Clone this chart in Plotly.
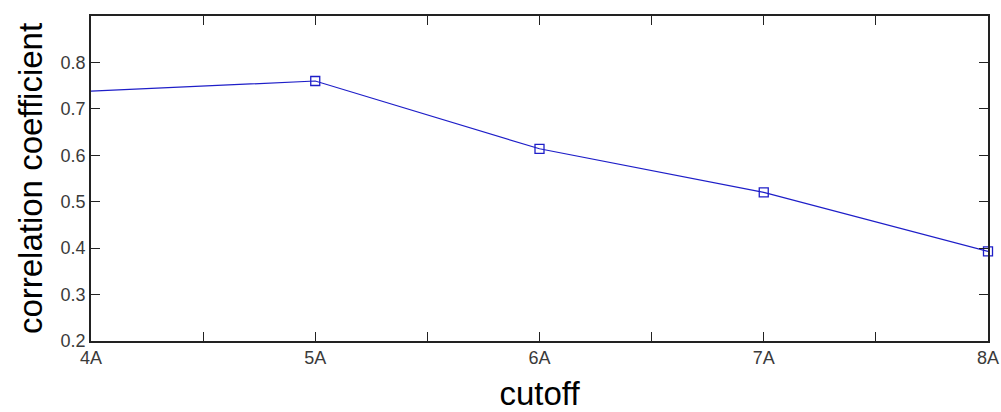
import plotly.graph_objects as go

cutoff_labels = ["4A", "5A", "6A", "7A", "8A"]
cutoff_values = [4, 5, 6, 7, 8]
corr_coef = [0.738, 0.760, 0.614, 0.520, 0.393]
marker_visible = [0, 1, 1, 1, 1]

line_color = "rgb(30,30,200)"
axis_color = "#222222"

fig = go.Figure()
fig.add_trace(go.Scatter(
    x=cutoff_values, y=corr_coef, mode="lines+markers",
    line=dict(color=line_color, width=1.2),
    marker=dict(symbol="square-open", size=9, color=line_color,
                opacity=marker_visible, line=dict(width=1.3, color=line_color)),
    cliponaxis=False, showlegend=False,
))

fig.update_layout(
    width=1001, height=412,
    margin=dict(l=91, r=13, t=16, b=71),
    paper_bgcolor="white", plot_bgcolor="white",
    font=dict(family="Liberation Sans, Arial, sans-serif", color="#3a3a3a"),
)
fig.update_xaxes(
    range=[4, 8], tickmode="array", tickvals=cutoff_values, ticktext=cutoff_labels,
    ticks="inside", ticklen=9, tickwidth=1.2, tickcolor=axis_color,
    minor=dict(dtick=0.5, tick0=4, ticks="inside", ticklen=9, tickwidth=1.2, tickcolor=axis_color),
    showline=True, linecolor=axis_color, linewidth=1.5, mirror="ticks",
    showgrid=False, zeroline=False, automargin=False,
    tickfont=dict(size=18, color="#3a3a3a"),
    title=dict(text="cutoff", font=dict(size=33, color="black"), standoff=16),
)
fig.update_yaxes(
    range=[0.2, 0.9], tickmode="array", tickvals=[0.2, 0.3, 0.4, 0.5, 0.6, 0.7, 0.8],
    ticktext=["0.2", "0.3", "0.4", "0.5", "0.6", "0.7", "0.8"],
    ticks="inside", ticklen=9, tickwidth=1.2, tickcolor=axis_color,
    showline=True, linecolor=axis_color, linewidth=1.5, mirror="ticks",
    showgrid=False, zeroline=False, automargin=False,
    tickfont=dict(size=18, color="#3a3a3a"),
    title=dict(text="correlation coefficient", font=dict(size=33, color="black"), standoff=8),
)

fig.write_html("out.html")
